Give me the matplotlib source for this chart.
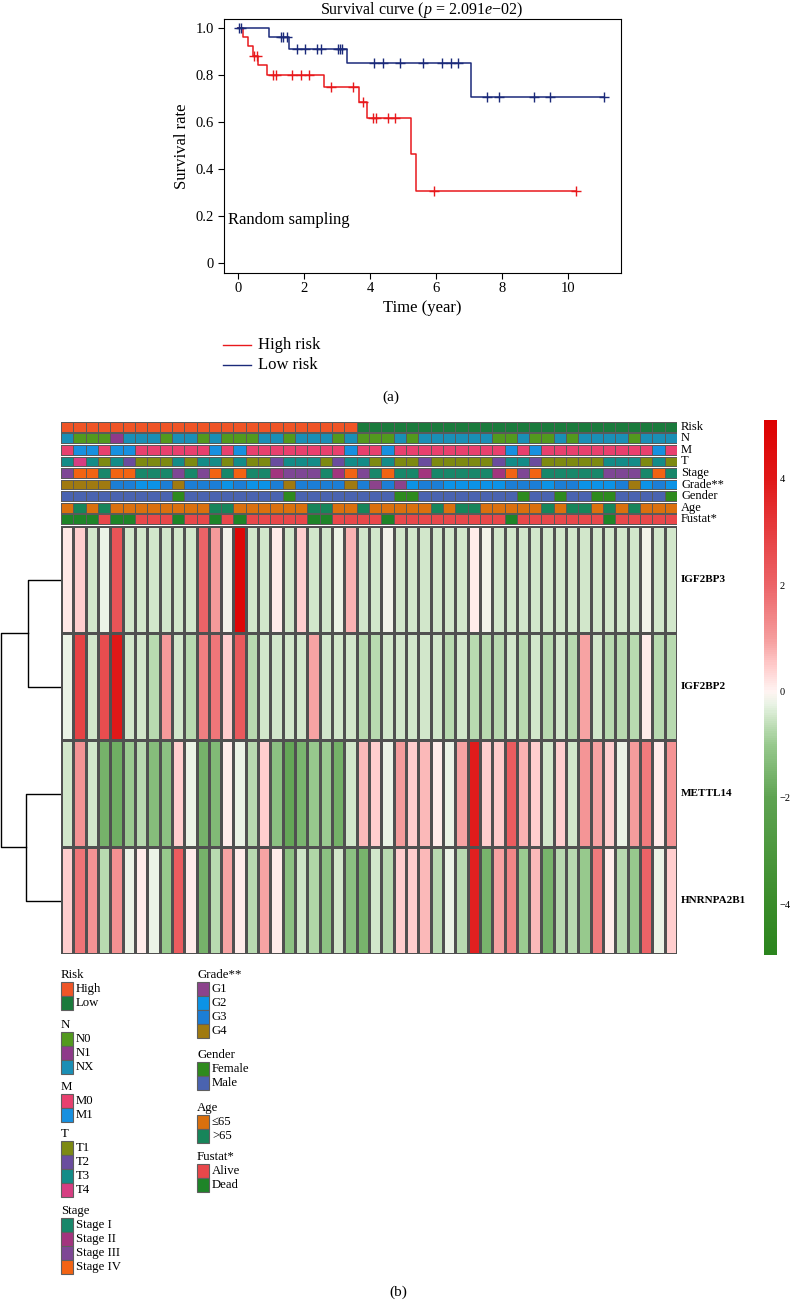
import numpy as np
import matplotlib
matplotlib.use('Agg')
import matplotlib.pyplot as plt
from matplotlib.colors import LinearSegmentedColormap, ListedColormap, Normalize
from matplotlib.cm import ScalarMappable
from matplotlib.patches import Rectangle

plt.rcParams['font.family'] = ['Liberation Serif', 'DejaVu Serif']
plt.rcParams['mathtext.fontset'] = 'custom'
plt.rcParams['mathtext.rm'] = 'Liberation Serif'
plt.rcParams['mathtext.it'] = 'Liberation Serif:italic'

W, H = 791, 1305

# ---- survival curves ----
red_time = [0, 0.15, 0.30, 0.43, 0.59, 0.86, 2.60, 3.66, 3.91, 5.22, 5.40, 10.25]
red_surv = [1, 0.962, 0.923, 0.884, 0.843, 0.803, 0.752, 0.688, 0.618, 0.464, 0.309, 0.309]
red_censor = [0.47, 0.56, 1.04, 1.13, 1.62, 1.90, 2.15, 2.80, 3.48, 3.77,
              4.07, 4.17, 4.55, 4.75, 5.94, 10.25]
blue_time = [0, 0.93, 1.54, 3.28, 7.04, 11.08]
blue_surv = [1, 0.962, 0.913, 0.851, 0.709, 0.709]
blue_censor = [0.03, 0.09, 1.28, 1.34, 1.46, 1.77, 2.03, 2.37, 2.52, 3.03, 3.08, 3.13,
               4.11, 4.39, 4.90, 5.59, 6.16, 6.46, 6.67, 7.55, 7.90, 8.96, 9.44, 11.08]

# ---- heatmap ----
genes = ['IGF2BP3', 'IGF2BP2', 'METTL14', 'HNRNPA2B1']
igf2bp3 = [0.15, 0.45, -0.45, -0.2, 2.4, -0.45, -0.45, -0.45, -0.45, -0.45,
           -0.45, 2.0, 1.05, -0.15, 4.8, -0.45, -0.45, 0.1, -0.45, 0.45,
           -0.45, -0.45, -0.2, 0.75, -0.45, -0.45, -0.15, -0.45, -0.45, -0.45,
           -0.45, -0.45, -0.45, 0.1, -0.15, -0.45, -0.45, -0.45, -0.45, -0.45,
           -0.45, -0.45, -0.45, -0.45, -0.45, -0.45, -0.45, -0.15, -0.45, -0.45]
igf2bp2 = [-0.2, 2.9, -0.45, 2.6, 4.0, -0.45, -0.45, -0.7, 1.05, -0.45,
           -0.7, 1.5, 1.65, 0.45, 2.3, -0.7, -0.45, -0.45, -0.45, -0.45,
           0.9, -0.45, -0.45, -0.45, -0.7, -0.7, -0.45, -0.45, -0.45, -0.45,
           -0.45, -0.7, -0.45, -0.7, -0.7, -0.7, -0.45, -0.7, -0.45, -0.7,
           -0.45, -0.7, 0.9, -0.45, -0.7, -0.7, -0.7, 0.1, -0.7, -0.7]
mettl14 = [-0.45, 1.15, -0.45, -1.6, -1.7, -0.95, -0.7, -1.3, -1.2, 0.45,
           -0.2, -1.6, -1.4, 0.1, -0.2, -0.7, 0.45, -1.2, -1.9, -1.5,
           -1.0, -0.95, -1.65, -0.45, 0.7, 0.45, -0.2, 1.0, 0.45, 0.7,
           0.1, -0.2, 0.9, 3.9, 0.45, 0.5, 2.2, 0.75, 0.45, -0.45,
           0.45, -0.45, 1.1, 0.9, 0.45, -0.2, 1.0, 1.6, 0.1, 1.15]
hnrnpa2b1 = [0.45, 1.7, 1.15, -0.7, 1.2, -0.2, 0.1, -0.2, -1.0, 2.2,
             0.1, -1.6, -0.7, 0.9, 0.1, -0.7, 0.9, 0.1, -1.2, -0.5,
             -0.75, -1.2, -0.45, -1.2, -1.55, -0.45, -0.7, 0.45, 0.45, 0.7,
             -0.7, -0.2, -0.7, 3.8, -1.55, 0.9, 1.4, -0.95, 0.7, -1.55,
             -0.7, -0.7, -1.0, 1.6, 0.1, -0.7, -1.0, 2.0, -0.2, 0.45]
# dendrogram merge heights (IGF2BP3+IGF2BP2, METTL14+HNRNPA2B1, root)
dend_heights = [0.55, 0.58, 1.0]

# ---- annotations ----
risk = ['High'] * 24 + ['Low'] * 26
n_stage = ['NX', 'N0', 'N0', 'N0', 'N1', 'NX', 'NX', 'NX', 'N0', 'NX',
           'NX', 'N0', 'NX', 'N0', 'N0', 'N0', 'NX', 'NX', 'N0', 'NX',
           'NX', 'NX', 'N0', 'NX', 'N0', 'N0', 'N0', 'NX', 'N0', 'NX',
           'NX', 'NX', 'NX', 'NX', 'NX', 'N0', 'N0', 'NX', 'N0', 'N0',
           'NX', 'N0', 'NX', 'NX', 'NX', 'NX', 'N0', 'NX', 'NX', 'NX']
m_stage = ['M0', 'M1', 'M1', 'M0', 'M1', 'M1', 'M0', 'M0', 'M0', 'M0',
           'M0', 'M0', 'M1', 'M0', 'M1', 'M0', 'M0', 'M0', 'M0', 'M0',
           'M0', 'M0', 'M0', 'M1', 'M0', 'M0', 'M1', 'M0', 'M0', 'M0',
           'M0', 'M0', 'M0', 'M0', 'M0', 'M0', 'M1', 'M0', 'M1', 'M0',
           'M0', 'M0', 'M0', 'M0', 'M0', 'M0', 'M0', 'M0', 'M1', 'M0']
t_stage = ['T3', 'T4', 'T3', 'T1', 'T3', 'T2', 'T1', 'T1', 'T1', 'T3',
           'T1', 'T3', 'T3', 'T1', 'T3', 'T1', 'T1', 'T2', 'T3', 'T3',
           'T3', 'T1', 'T2', 'T3', 'T3', 'T1', 'T3', 'T1', 'T1', 'T2',
           'T1', 'T1', 'T1', 'T1', 'T1', 'T2', 'T3', 'T3', 'T2', 'T1',
           'T1', 'T1', 'T1', 'T1', 'T3', 'T3', 'T3', 'T1', 'T3', 'T1']
stage = ['Stage III', 'Stage IV', 'Stage IV', 'Stage I', 'Stage IV', 'Stage IV', 'Stage I', 'Stage I', 'Stage I', 'Stage III',
         'Stage I', 'Stage III', 'Stage IV', 'Stage I', 'Stage IV', 'Stage I', 'Stage I', 'Stage II', 'Stage III', 'Stage III',
         'Stage III', 'Stage I', 'Stage II', 'Stage IV', 'Stage III', 'Stage I', 'Stage IV', 'Stage I', 'Stage I', 'Stage II',
         'Stage I', 'Stage I', 'Stage I', 'Stage I', 'Stage I', 'Stage II', 'Stage IV', 'Stage III', 'Stage IV', 'Stage I',
         'Stage I', 'Stage I', 'Stage I', 'Stage I', 'Stage III', 'Stage III', 'Stage III', 'Stage I', 'Stage IV', 'Stage I']
grade = ['G4', 'G4', 'G4', 'G4', 'G3', 'G3', 'G2', 'G2', 'G3', 'G4',
         'G3', 'G3', 'G3', 'G2', 'G3', 'G2', 'G2', 'G3', 'G4', 'G3',
         'G3', 'G3', 'G3', 'G4', 'G3', 'G1', 'G3', 'G1', 'G2', 'G3',
         'G3', 'G2', 'G2', 'G2', 'G2', 'G2', 'G3', 'G3', 'G3', 'G2',
         'G3', 'G3', 'G2', 'G2', 'G2', 'G3', 'G4', 'G2', 'G3', 'G2']
gender = ['Male', 'Male', 'Male', 'Male', 'Male', 'Male', 'Male', 'Male', 'Male', 'Female',
          'Male', 'Male', 'Male', 'Male', 'Male', 'Male', 'Male', 'Male', 'Female', 'Male',
          'Male', 'Male', 'Male', 'Male', 'Male', 'Male', 'Male', 'Female', 'Female', 'Male',
          'Male', 'Male', 'Male', 'Male', 'Male', 'Male', 'Male', 'Female', 'Male', 'Male',
          'Female', 'Male', 'Male', 'Female', 'Female', 'Male', 'Male', 'Male', 'Male', 'Female']
age = ['≤65', '>65', '≤65', '>65', '≤65', '≤65', '≤65', '≤65', '≤65', '≤65',
       '≤65', '≤65', '>65', '>65', '≤65', '≤65', '≤65', '≤65', '≤65', '≤65',
       '>65', '>65', '≤65', '≤65', '>65', '≤65', '≤65', '≤65', '≤65', '≤65',
       '>65', '≤65', '>65', '>65', '≤65', '≤65', '≤65', '≤65', '≤65', '>65',
       '≤65', '>65', '>65', '≤65', '>65', '≤65', '>65', '≤65', '≤65', '≤65']
fustat = ['Dead', 'Dead', 'Dead', 'Alive', 'Dead', 'Dead', 'Alive', 'Alive', 'Alive', 'Dead',
          'Alive', 'Alive', 'Dead', 'Alive', 'Dead', 'Alive', 'Alive', 'Alive', 'Alive', 'Alive',
          'Dead', 'Dead', 'Alive', 'Alive', 'Alive', 'Alive', 'Dead', 'Alive', 'Alive', 'Alive',
          'Alive', 'Alive', 'Alive', 'Alive', 'Alive', 'Alive', 'Dead', 'Alive', 'Alive', 'Alive',
          'Alive', 'Alive', 'Alive', 'Alive', 'Dead', 'Alive', 'Alive', 'Alive', 'Alive', 'Alive']

annot_names = ['Risk', 'N', 'M', 'T', 'Stage', 'Grade**', 'Gender', 'Age', 'Fustat*']
annot_values = [risk, n_stage, m_stage, t_stage, stage, grade, gender, age, fustat]
annot_levels = [['High', 'Low'], ['N0', 'N1', 'NX'], ['M0', 'M1'], ['T1', 'T2', 'T3', 'T4'],
                ['Stage I', 'Stage II', 'Stage III', 'Stage IV'], ['G1', 'G2', 'G3', 'G4'],
                ['Female', 'Male'], ['≤65', '>65'], ['Alive', 'Dead']]
annot_colors = [['#EF5527', '#1A7A3C'], ['#52991E', '#8E3A8A', '#1A8FB5'], ['#E8406E', '#1790E0'],
                ['#7D8A12', '#6A4D9E', '#148C88', '#D63E82'],
                ['#17876A', '#A2357E', '#7E4795', '#F26313'],
                ['#8C438C', '#0C93E6', '#1C7ED6', '#A07A10'],
                ['#2F8A1E', '#4A63B0'], ['#DA700E', '#17855A'], ['#E8474A', '#1E8428']]

# colour scale of the heatmap
cb_vals = [-4.95, -4, -2, -1, -0.5, -0.25, 0, 0.5, 1, 2, 4, 5.1]
cb_cols = ['#2B851D', '#3A8C2A', '#5FA352', '#98C98E', '#CDE5C6', '#E8F3E4', '#FFF4F2',
           '#FFCACA', '#F59C9C', '#EC6468', '#E01818', '#DD0000']
vmin, vmax = cb_vals[0], cb_vals[-1]
cmap = LinearSegmentedColormap.from_list(
    'gwr', [((v - vmin) / (vmax - vmin), c) for v, c in zip(cb_vals, cb_cols)])
norm = Normalize(vmin, vmax)


def px_axes(fig, x0, y0, x1, y1):
    return fig.add_axes([x0 / W, 1 - y1 / H, (x1 - x0) / W, (y1 - y0) / H])


def surv_at(times, survs, t):
    idx = np.searchsorted(times, t, side='right') - 1
    return np.array(survs)[idx]


fig = plt.figure(figsize=(W / 100, H / 100), dpi=100)

# ---------------- (a) survival curve ----------------
ax = px_axes(fig, 223.5, 19, 621, 272.7)
ax.step(red_time, red_surv, where='post', color='#E8191C', lw=1.1)
ax.step(blue_time, blue_surv, where='post', color='#1B2A7A', lw=1.1)
ax.plot(red_censor, surv_at(red_time, red_surv, red_censor), ls='none', marker='+',
        ms=7, mew=1.0, color='#E8191C')
ax.plot(blue_censor, surv_at(blue_time, blue_surv, blue_censor), ls='none', marker='+',
        ms=7, mew=1.0, color='#1B2A7A')
ax.set_xlim(-0.45, 11.6)
ax.set_ylim(-0.04, 1.04)
ax.set_xticks([0, 2, 4, 6, 8, 10])
ax.set_yticks([0, 0.2, 0.4, 0.6, 0.8, 1.0])
ax.set_yticklabels(['0', '0.2', '0.4', '0.6', '0.8', '1.0'])
ax.tick_params(direction='out', length=4, width=0.8, labelsize=10.5, pad=3)
for s in ax.spines.values():
    s.set_linewidth(0.8)
ax.text(-0.32, 0.185, 'Random sampling', fontsize=12, va='center', ha='left')
ax.set_xlabel('Time (year)', fontsize=12, labelpad=3)
ax.set_ylabel('Survival rate', fontsize=12, labelpad=4)
fig.text(421 / W, 1 - 0.5 / H, r'Survival curve ($\mathit{p}$ = 2.091$\mathit{e}$−02)',
         fontsize=11.5, ha='center', va='top')

# overlay axes in pixel coordinates
ov = fig.add_axes([0, 0, 1, 1], zorder=-1)
ov.set_xlim(0, W)
ov.set_ylim(H, 0)
ov.axis('off')

ov.plot([223, 251], [345, 345], color='#E8191C', lw=1.0)
ov.plot([223, 251], [365, 365], color='#1B2A7A', lw=1.0)
ov.text(258, 345, 'High risk', fontsize=12, va='center')
ov.text(258, 365, 'Low risk', fontsize=12, va='center')
ov.text(391, 397, '(a)', fontsize=11, ha='center', va='center')
ov.text(398, 1292, '(b)', fontsize=11, ha='center', va='center')

# ---------------- (b) heatmap ----------------
ncol = len(risk)
ax_an = px_axes(fig, 61, 421, 677, 525)
for r, (vals, levels, cols) in enumerate(zip(annot_values, annot_levels, annot_colors)):
    codes = np.array([[levels.index(v) for v in vals]])
    ax_an.pcolormesh(np.arange(ncol + 1), [r + 0.08, r + 0.92], codes,
                     cmap=ListedColormap(cols), vmin=-0.5, vmax=len(cols) - 0.5,
                     edgecolors='#5a5a5a', linewidth=0.6)
ax_an.set_xlim(0, ncol)
ax_an.set_ylim(len(annot_names), 0)
ax_an.axis('off')
for r, name in enumerate(annot_names):
    ov.text(681, 421 + 11.55 * (r + 0.5), name, fontsize=9, va='center', ha='left')

ax_hm = px_axes(fig, 61, 526, 677, 954)
data = np.array([igf2bp3, igf2bp2, mettl14, hnrnpa2b1])
ax_hm.pcolormesh(data, cmap=cmap, norm=norm, edgecolors='#505050', linewidth=0.8)
ax_hm.set_xlim(0, ncol)
ax_hm.set_ylim(len(genes), 0)
ax_hm.axis('off')
for r, g in enumerate(genes):
    ov.text(681, 526 + 107 * (r + 0.5), g, fontsize=8, fontweight='bold',
            va='center', ha='left')

# dendrogram
ax_d = px_axes(fig, 0, 526, 61, 954)
h1, h2, h3 = dend_heights
ax_d.plot([0, h1, h1, 0], [0.5, 0.5, 1.5, 1.5], color='black', lw=1.0)
ax_d.plot([0, h2, h2, 0], [2.5, 2.5, 3.5, 3.5], color='black', lw=1.0)
ax_d.plot([h1, h3, h3, h2], [1.0, 1.0, 3.0, 3.0], color='black', lw=1.0)
ax_d.set_xlim(1.01, 0)
ax_d.set_ylim(4, 0)
ax_d.axis('off')

# colour bar
cax = px_axes(fig, 764, 420, 777, 955)
cb = fig.colorbar(ScalarMappable(norm=norm, cmap=cmap), cax=cax)
cb.outline.set_visible(False)
cb.set_ticks([-4, -2, 0, 2, 4])
cb.set_ticklabels(['−4', '−2', '0', '2', '4'])
cax.tick_params(length=0, labelsize=7.5, pad=2)

# annotation legends
col1 = [0, 1, 2, 3, 4]
col2 = [5, 6, 7, 8]
title_y1 = [975, 1025, 1087, 1134, 1211]
title_y2 = [975, 1055, 1108, 1157]
for idxs, ys, x in [(col1, title_y1, 61), (col2, title_y2, 197)]:
    for i, ty in zip(idxs, ys):
        ov.text(x, ty, annot_names[i], fontsize=9.3, va='center', ha='left')
        for k, (lev, c) in enumerate(zip(annot_levels[i], annot_colors[i])):
            top = ty + 7 + 13.9 * k
            ov.add_patch(Rectangle((x, top), 12, 13.9, facecolor=c,
                                   edgecolor='#5f5f5f', lw=0.8))
            ov.text(x + 15, top + 7, lev, fontsize=9.2, va='center', ha='left')

fig.savefig('out.png', dpi=100)
